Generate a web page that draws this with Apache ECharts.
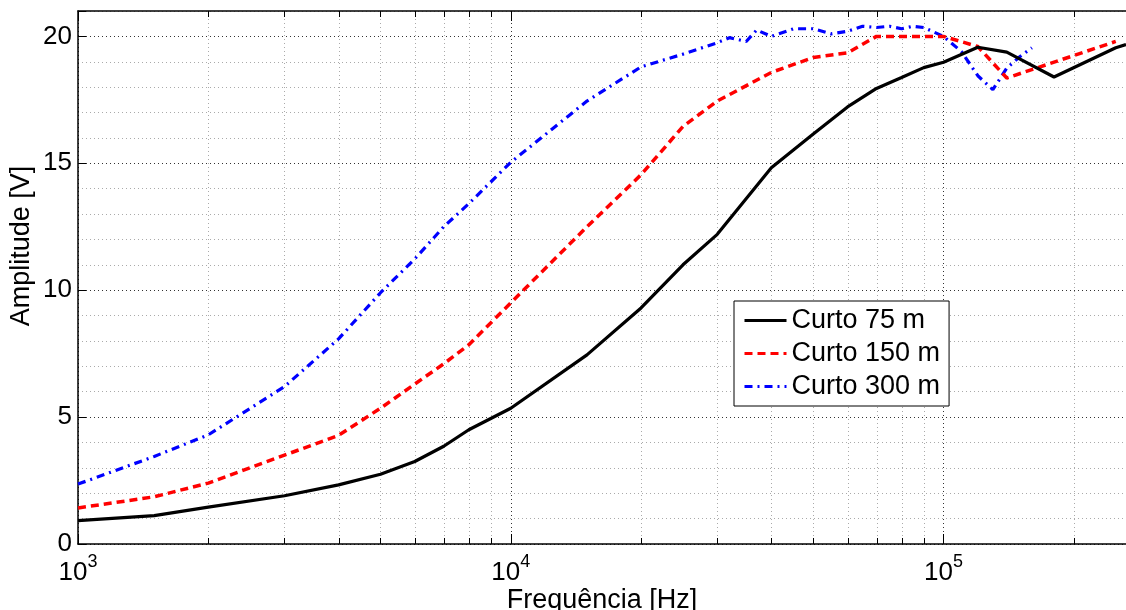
<!DOCTYPE html>
<html>
<head>
<meta charset="utf-8">
<script src="https://cdn.jsdelivr.net/npm/echarts@6/dist/echarts.min.js"></script>
<style>
html,body{margin:0;padding:0;background:#fff;}
#chart{width:1126px;height:610px;}
</style>
</head>
<body>
<div id="chart"></div>
<script>
// ---- data ----
const seriesNames = ['Curto 75 m', 'Curto 150 m', 'Curto 300 m'];

const freq75 = [1000,1500,2000,3000,4000,5000,6000,7000,8000,10000,15000,20000,25000,30000,40000,50000,60000,70000,80000,90000,100000,120000,140000,180000,250000,264000];
const amp75  = [0.92,1.12,1.45,1.9,2.33,2.75,3.25,3.85,4.5,5.35,7.45,9.3,11.0,12.2,14.82,16.15,17.22,17.95,18.38,18.77,18.98,19.57,19.38,18.4,19.55,19.68];

const freq150 = [1000,1500,2000,3000,4000,5000,6000,7000,8000,10000,15000,20000,25000,30000,40000,50000,60000,70000,80000,90000,100000,120000,140000,250000];
const amp150  = [1.42,1.86,2.4,3.5,4.28,5.35,6.3,7.1,7.85,9.5,12.5,14.55,16.45,17.45,18.58,19.17,19.35,20.0,20.0,20.0,20.0,19.6,18.36,19.8];

const freq300 = [1000,1500,2000,3000,4000,5000,6000,7000,8000,10000,15000,20000,25000,30000,32000,35000,37000,40000,45000,50000,55000,60000,65000,70000,75000,80000,85000,90000,100000,110000,120000,130000,140000,150000,160000];
const amp300  = [2.36,3.45,4.3,6.2,8.08,9.9,11.23,12.5,13.41,15.04,17.45,18.8,19.3,19.75,19.95,19.8,20.25,20.0,20.3,20.3,20.1,20.2,20.4,20.35,20.4,20.3,20.4,20.35,20.0,19.4,18.45,17.9,18.75,19.2,19.55];

const yTickLabels = [0, 5, 10, 15, 20];
const xDecades = [1000, 10000, 100000];
const minorMultipliers = [2,3,4,5,6,7,8,9];

const xMin = 1000, xMax = 264000, yMin = 0, yMax = 21;

// ---- build ----
const pairs = (xs, ys) => xs.map((x, i) => [x, ys[i]]);
const minorTicks = [];
xDecades.forEach(d => minorMultipliers.forEach(m => { if (d * m < xMax) minorTicks.push([d * m]); }));

const FONT = 'Liberation Sans, Arial, Helvetica, sans-serif';
const chart = echarts.init(document.getElementById('chart'), null, {renderer: 'canvas'});

const supFormatter = v => {
  const e = Math.log10(v);
  if (Math.abs(e - Math.round(e)) > 1e-6) return '';
  return '{b|10}{s|' + Math.round(e) + '}';
};

const option = {
  backgroundColor: '#fff',
  animation: false,
  textStyle: {fontFamily: FONT},
  grid: {left: 78, top: 11, right: 0, bottom: 66, containLabel: false, outerBoundsMode: 'none'},
  legend: {
    data: seriesNames,
    orient: 'vertical',
    left: 734, top: 301,
    itemWidth: 42, itemHeight: 14, itemGap: 6,
    padding: [6, 9, 6, 9],
    backgroundColor: '#fff', borderColor: '#000', borderWidth: 1, borderRadius: 0,
    textStyle: {fontSize: 27, color: '#000', fontFamily: FONT, lineHeight: 27},
    itemStyle: {opacity: 0},
    lineStyle: {width: 3},
    selectedMode: false
  },
  xAxis: [{
    type: 'log', logBase: 10, min: xMin, max: xMax, position: 'bottom',
    name: 'Frequência [Hz]', nameLocation: 'middle', nameGap: 43, nameMoveOverlap: false,
    nameTextStyle: {fontSize: 27, color: '#000', fontFamily: FONT},
    axisLine: {show: true, onZero: false, lineStyle: {color: '#000', width: 1.5}},
    axisTick: {show: true, inside: true, length: 10, lineStyle: {color: '#000', width: 1}},
    axisLabel: {
      margin: 16, color: '#000', formatter: supFormatter,
      rich: {
        b: {fontSize: 26, fontFamily: FONT, color: '#000', lineHeight: 26},
        s: {fontSize: 18, fontFamily: FONT, color: '#000', lineHeight: 17, padding: [0, 0, 21, 0]}
      }
    },
    splitLine: {show: true, lineStyle: {color: '#333', width: 1, type: [1, 3]}}
  }, {
    type: 'log', logBase: 10, min: xMin, max: xMax, position: 'top',
    axisLine: {show: true, onZero: false, lineStyle: {color: '#000', width: 1.5}},
    axisTick: {show: true, inside: true, length: 10, lineStyle: {color: '#000', width: 1}},
    axisLabel: {show: false},
    splitLine: {show: false}
  }],
  yAxis: [{
    type: 'value', min: yMin, max: yMax, interval: 1, position: 'left',
    axisLine: {show: true, onZero: false, lineStyle: {color: '#000', width: 1.5}},
    axisTick: {show: false},
    axisLabel: {show: false},
    splitLine: {show: true, lineStyle: {color: ['#333', '#aaa', '#aaa', '#aaa', '#aaa'], width: 1, type: [1, 3]}}
  }, {
    type: 'value', min: yMin, max: yMax, interval: 5, position: 'left',
    axisLine: {show: false},
    axisTick: {show: true, inside: true, length: 8, lineStyle: {color: '#000', width: 1}},
    axisLabel: {
      margin: 6, fontSize: 26, color: '#000', fontFamily: FONT,
      formatter: v => (yTickLabels.indexOf(v) >= 0 ? String(v) : '')
    },
    splitLine: {show: false}
  }],
  graphic: [{
    type: 'text',
    x: 22, y: 246, rotation: Math.PI / 2,
    style: {text: 'Amplitude [V]', fontSize: 27, fontFamily: FONT, fill: '#000', align: 'center', verticalAlign: 'middle'}
  }],
  series: [{
    type: 'custom', name: 'minor', xAxisIndex: 0, yAxisIndex: 0, z: 1, silent: true,
    data: minorTicks, encode: {x: 0},
    renderItem: (params, api) => {
      const v = api.value(0);
      const p0 = api.coord([v, yMin]);
      const p1 = api.coord([v, yMax]);
      const x = Math.round(p0[0]) + 0.5;
      return {type: 'group', children: [
        {type: 'line', shape: {x1: x, y1: p0[1], x2: x, y2: p1[1]}, style: {stroke: '#aaa', lineWidth: 1, lineDash: [1, 3]}},
        {type: 'line', shape: {x1: x, y1: p0[1], x2: x, y2: p0[1] - 6}, style: {stroke: '#000', lineWidth: 1}},
        {type: 'line', shape: {x1: x, y1: p1[1], x2: x, y2: p1[1] + 6}, style: {stroke: '#000', lineWidth: 1}}
      ]};
    }
  }, {
    type: 'line', name: seriesNames[0], data: pairs(freq75, amp75), symbol: 'none', z: 5,
    lineStyle: {color: '#000', width: 3.2, type: 'solid'}, itemStyle: {color: '#000'}
  }, {
    type: 'line', name: seriesNames[1], data: pairs(freq150, amp150), symbol: 'none', z: 4,
    lineStyle: {color: '#ff0000', width: 3.5, type: [8, 5]}, itemStyle: {color: '#ff0000'}
  }, {
    type: 'line', name: seriesNames[2], data: pairs(freq300, amp300), symbol: 'none', z: 3,
    lineStyle: {color: '#0000ff', width: 3.2, type: [8, 5, 2, 5]}, itemStyle: {color: '#0000ff'}
  }]
};
chart.setOption(option);
</script>
</body>
</html>
